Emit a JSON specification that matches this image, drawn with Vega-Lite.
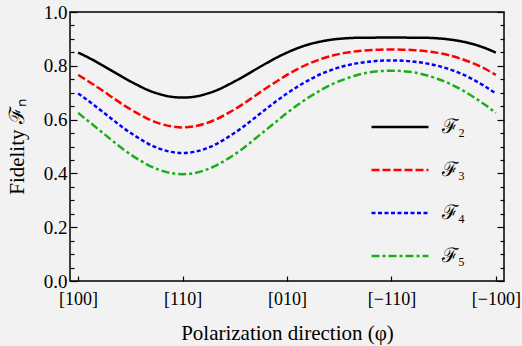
{
  "$schema": "https://vega.github.io/schema/vega-lite/v6.json",
  "width": 434,
  "height": 269,
  "autosize": "none",
  "padding": {"left": 70, "top": 12, "right": 18, "bottom": 65},
  "background": "#f2f2f2",
  "config": {
    "view": {"stroke": "black", "strokeWidth": 1.5},
    "font": "Liberation Serif",
    "axis": {"domain": false, "grid": false, "tickColor": "black", "tickWidth": 1.2, "labelColor": "black", "titleColor": "black", "labelFont": "Liberation Serif", "titleFont": "Liberation Serif", "titleFontWeight": "normal", "labelFontSize": 18, "titleFontSize": 21}
  },
  "data": {"values": [
    {"phi": 0, "F2": 0.849, "F3": 0.766, "F4": 0.697, "F5": 0.625},
    {"phi": 5, "F2": 0.828, "F3": 0.739, "F4": 0.666, "F5": 0.590},
    {"phi": 10, "F2": 0.804, "F3": 0.711, "F4": 0.633, "F5": 0.555},
    {"phi": 15, "F2": 0.779, "F3": 0.681, "F4": 0.599, "F5": 0.520},
    {"phi": 20, "F2": 0.754, "F3": 0.652, "F4": 0.566, "F5": 0.486},
    {"phi": 25, "F2": 0.731, "F3": 0.626, "F4": 0.537, "F5": 0.457},
    {"phi": 30, "F2": 0.710, "F3": 0.603, "F4": 0.511, "F5": 0.432},
    {"phi": 35, "F2": 0.695, "F3": 0.586, "F4": 0.492, "F5": 0.413},
    {"phi": 40, "F2": 0.685, "F3": 0.575, "F4": 0.480, "F5": 0.401},
    {"phi": 45, "F2": 0.682, "F3": 0.571, "F4": 0.476, "F5": 0.397},
    {"phi": 50, "F2": 0.685, "F3": 0.575, "F4": 0.480, "F5": 0.401},
    {"phi": 55, "F2": 0.695, "F3": 0.586, "F4": 0.492, "F5": 0.413},
    {"phi": 60, "F2": 0.710, "F3": 0.603, "F4": 0.511, "F5": 0.432},
    {"phi": 65, "F2": 0.731, "F3": 0.626, "F4": 0.537, "F5": 0.457},
    {"phi": 70, "F2": 0.754, "F3": 0.652, "F4": 0.566, "F5": 0.486},
    {"phi": 75, "F2": 0.779, "F3": 0.681, "F4": 0.599, "F5": 0.520},
    {"phi": 80, "F2": 0.804, "F3": 0.711, "F4": 0.633, "F5": 0.555},
    {"phi": 85, "F2": 0.828, "F3": 0.739, "F4": 0.666, "F5": 0.590},
    {"phi": 90, "F2": 0.849, "F3": 0.766, "F4": 0.697, "F5": 0.625},
    {"phi": 95, "F2": 0.867, "F3": 0.790, "F4": 0.725, "F5": 0.657},
    {"phi": 100, "F2": 0.881, "F3": 0.810, "F4": 0.750, "F5": 0.686},
    {"phi": 105, "F2": 0.891, "F3": 0.826, "F4": 0.771, "F5": 0.712},
    {"phi": 110, "F2": 0.898, "F3": 0.839, "F4": 0.787, "F5": 0.734},
    {"phi": 115, "F2": 0.902, "F3": 0.848, "F4": 0.800, "F5": 0.751},
    {"phi": 120, "F2": 0.904, "F3": 0.854, "F4": 0.809, "F5": 0.765},
    {"phi": 125, "F2": 0.904, "F3": 0.858, "F4": 0.815, "F5": 0.775},
    {"phi": 130, "F2": 0.905, "F3": 0.860, "F4": 0.819, "F5": 0.780},
    {"phi": 135, "F2": 0.905, "F3": 0.861, "F4": 0.820, "F5": 0.782},
    {"phi": 140, "F2": 0.905, "F3": 0.860, "F4": 0.819, "F5": 0.780},
    {"phi": 145, "F2": 0.904, "F3": 0.858, "F4": 0.815, "F5": 0.775},
    {"phi": 150, "F2": 0.904, "F3": 0.854, "F4": 0.809, "F5": 0.765},
    {"phi": 155, "F2": 0.902, "F3": 0.848, "F4": 0.800, "F5": 0.751},
    {"phi": 160, "F2": 0.898, "F3": 0.839, "F4": 0.787, "F5": 0.734},
    {"phi": 165, "F2": 0.891, "F3": 0.826, "F4": 0.771, "F5": 0.712},
    {"phi": 170, "F2": 0.881, "F3": 0.810, "F4": 0.750, "F5": 0.686},
    {"phi": 175, "F2": 0.867, "F3": 0.790, "F4": 0.725, "F5": 0.657},
    {"phi": 180, "F2": 0.849, "F3": 0.766, "F4": 0.697, "F5": 0.625}
  ]},
  "transform": [{"fold": ["F2", "F3", "F4", "F5"], "as": ["series", "F"]}],
  "encoding": {
    "x": {
      "field": "phi", "type": "quantitative",
      "scale": {"domain": [-3.5, 183.5], "nice": false, "zero": false},
      "axis": {
        "values": [0, 45, 90, 135, 180],
        "labelExpr": "['[100]','[110]','[010]','[−110]','[−100]'][round(datum.value/45)]",
        "tickSize": -5, "labelPadding": 14, "labelFlush": false,
        "title": "Polarization direction (φ)", "titlePadding": 14
      }
    }
  },
  "layer": [
    {
      "mark": {"type": "line", "strokeWidth": 2.5, "interpolate": "monotone"},
      "encoding": {
        "y": {
          "field": "F", "type": "quantitative",
          "scale": {"domain": [0, 1], "nice": false, "zero": false},
          "axis": {
            "orient": "left",
            "values": [0, 0.05, 0.1, 0.15, 0.2, 0.25, 0.3, 0.35, 0.4, 0.45, 0.5, 0.55, 0.6, 0.65, 0.7, 0.75, 0.8, 0.85, 0.9, 0.95, 1.0],
            "labelExpr": "(round(datum.value*20)%4==0) ? format(datum.value,'.1f') : ''",
            "tickSize": {"condition": {"test": "round(datum.value*20)%4==0", "value": -7}, "value": -4},
            "labelPadding": 10, "labelFlush": false, "labelFontSize": 19,
            "title": "Fidelity ℱₙ", "titlePadding": 16
          }
        },
        "color": {
          "field": "series", "type": "nominal",
          "scale": {"domain": ["F2", "F3", "F4", "F5"], "range": ["black", "#ff0000", "#0000ff", "#1aaf1a"]},
          "legend": {
            "orient": "none", "legendX": 300, "legendY": 85,
            "title": null, "symbolType": "stroke", "symbolSize": 3249, "symbolStrokeWidth": 2.5,
            "labelExpr": "{'F2':'ℱ₂','F3':'ℱ₃','F4':'ℱ₄','F5':'ℱ₅'}[datum.value]",
            "labelFontSize": 20, "labelColor": "black", "labelOffset": 12, "rowPadding": 3
          }
        },
        "strokeDash": {
          "field": "series", "type": "nominal",
          "scale": {"domain": ["F2", "F3", "F4", "F5"], "range": [[1, 0], [8, 3], [4, 2.5], [8, 3, 3, 3]]}
        }
      }
    },
    {
      "mark": {"type": "point", "opacity": 0},
      "encoding": {
        "y": {
          "field": "F", "type": "quantitative",
          "scale": {"domain": [0, 1], "nice": false, "zero": false},
          "axis": {
            "orient": "right",
            "values": [0, 0.05, 0.1, 0.15, 0.2, 0.25, 0.3, 0.35, 0.4, 0.45, 0.5, 0.55, 0.6, 0.65, 0.7, 0.75, 0.8, 0.85, 0.9, 0.95, 1.0],
            "labels": false,
            "tickSize": {"condition": {"test": "round(datum.value*20)%4==0", "value": -7}, "value": -4},
            "title": null
          }
        }
      }
    }
  ],
  "resolve": {"axis": {"y": "independent"}}
}
